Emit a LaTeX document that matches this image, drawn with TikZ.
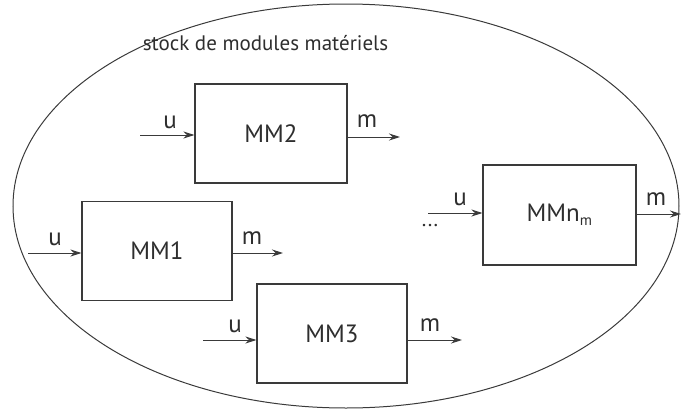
\documentclass[tikz,border=0pt]{standalone}
\usepackage{fontspec}
\setmainfont{PT Sans}
\usetikzlibrary{arrows.meta}
\definecolor{ln}{HTML}{3a3a3a}
\definecolor{tx}{HTML}{2e2e2e}
\tikzset{
  mod/.style={draw=ln, line width=1.1pt, minimum width=150pt, minimum height=99pt, inner sep=0pt, font=\fontsize{25}{25}\selectfont, text=tx},
  sig/.style={draw=ln, line width=1pt, -{Stealth[length=11pt,width=7pt]}},
  lab/.style={font=\fontsize{25}{25}\selectfont, text=tx, inner sep=0pt},
  ttl/.style={font=\fontsize{21}{21}\selectfont, text=tx, inner sep=0pt}
}
\begin{document}
\begin{tikzpicture}[x=1pt,y=-1pt]
\useasboundingbox (0,0) rectangle (681,410);
\draw[ln, line width=1pt] (346,206) ellipse [x radius=333, y radius=202];
\node[ttl] (title) at (265.5,43) {stock de modules matériels};
% MM2
\node[mod, minimum width=152pt] (mm2) at (271,133.5) {MM2};
\coordinate (mm2in) at (140,135);
\coordinate (mm2out) at (400,137);
\draw[sig] (mm2in) -- (mm2in -| mm2.west);
\draw[sig] (mm2.east |- mm2out) -- (mm2out);
\node[lab] (u2) at (170,122) {u};
\node[lab] (m2) at (367,121) {m};
% MM1
\node[mod] (mm1) at (157,251) {MM1};
\coordinate (mm1in) at (28,253);
\coordinate (mm1out) at (283,253);
\draw[sig] (mm1in) -- (mm1in -| mm1.west);
\draw[sig] (mm1.east |- mm1out) -- (mm1out);
\node[lab] (u1) at (55,239) {u};
\node[lab] (m1) at (252,238) {m};
% MM3
\node[mod] (mm3) at (332,333.5) {MM3};
\coordinate (mm3in) at (203,340);
\coordinate (mm3out) at (462,340);
\draw[sig] (mm3in) -- (mm3in -| mm3.west);
\draw[sig] (mm3.east |- mm3out) -- (mm3out);
\node[lab] (u3) at (235,326) {u};
\node[lab] (m3) at (430,325) {m};
% MMn
\node[mod, minimum width=153pt, minimum height=100pt] (mmn) at (559.5,215) {MMn\textsubscript{\fontsize{15}{15}\selectfont m}};
\coordinate (mmnin) at (428,213);
\coordinate (mmnout) at (681,214);
\draw[sig] (mmnin) -- (mmnin -| mmn.west);
\draw[sig] (mmn.east |- mmnout) -- (mmnout);
\node[lab] (un) at (460,199) {u};
\node[lab] (mn) at (656,199) {m};
\node[ttl] (dots) at (430,226) {...};
\end{tikzpicture}
\end{document}
